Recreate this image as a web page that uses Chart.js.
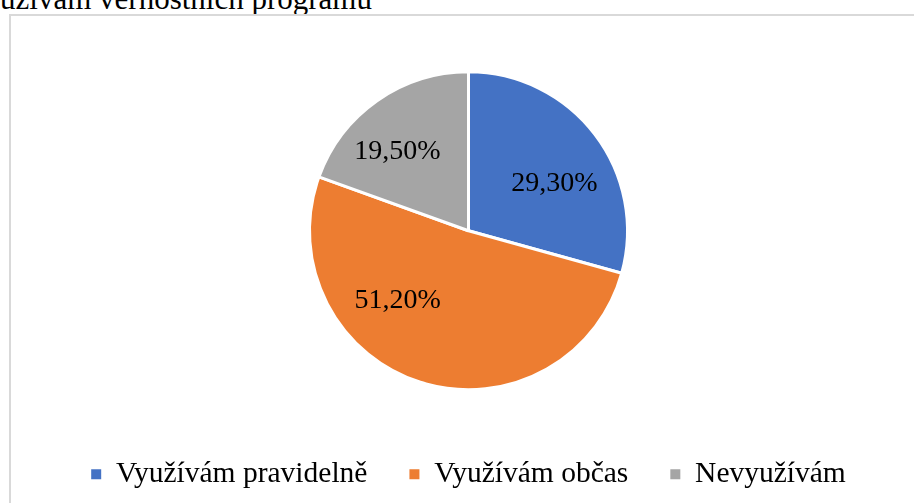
<!DOCTYPE html>
<html>
<head>
<meta charset="utf-8">
<script src="https://cdn.jsdelivr.net/npm/chart.js@4"></script>
<style>
  html, body { margin: 0; padding: 0; background: #fff; overflow: hidden; width: 914px; height: 503px; }
  .title {
    position: absolute; right: 542px; top: -17px;
    font: 31px "Liberation Serif", "Times New Roman", serif; line-height: 31px;
    white-space: nowrap; color: #000;
  }
  .box {
    position: absolute; left: 9px; top: 14px; width: 1000px; height: 600px;
    border: 2px solid #d9d9d9; box-sizing: border-box;
  }
  #chart { position: absolute; left: 11px; top: 16px; }
</style>
</head>
<body>
<div class="title">Využívám věrnostních programů</div>
<div class="box"></div>
<canvas id="chart" width="903" height="487"></canvas>
<script>
const categories = ['Využívám pravidelně', 'Využívám občas', 'Nevyužívám']
const values = [29.3, 51.2, 19.5]
const colors = ['#4472C4', '#ED7D31', '#A5A5A5']

// position of each value label inside its slice (fraction of arc, fraction of radius)
const labelAngle = [0.575, 0.653, 0.41]
const labelRadius = [0.62, 0.62, 0.675]

const formatPct = v => v.toFixed(2).replace('.', ',') + '%'

const sliceLabels = {
  id: 'sliceLabels',
  afterDatasetsDraw(chart) {
    const ctx = chart.ctx
    const meta = chart.getDatasetMeta(0)
    ctx.save()
    ctx.font = '28px "Liberation Serif", "Times New Roman", serif'
    ctx.fillStyle = '#000'
    ctx.textAlign = 'center'
    ctx.textBaseline = 'middle'
    meta.data.forEach((arc, i) => {
      const p = arc.getProps(['x', 'y', 'startAngle', 'endAngle', 'outerRadius'], true)
      const a = p.startAngle + (p.endAngle - p.startAngle) * labelAngle[i]
      const r = p.outerRadius * labelRadius[i]
      ctx.fillText(formatPct(values[i]), p.x + Math.cos(a) * r, p.y + Math.sin(a) * r + 1)
    })
    ctx.restore()
  }
}

Chart.defaults.font.family = '"Liberation Serif", "Times New Roman", serif'
Chart.defaults.color = '#000'

const baseLabels = Chart.overrides.pie.plugins.legend.labels.generateLabels

const ctx = document.getElementById('chart').getContext('2d')
new Chart(ctx, {
  type: 'pie',
  data: {
    labels: categories,
    datasets: [{
      data: values,
      backgroundColor: colors,
      borderColor: '#fff',
      borderWidth: 3,
      hoverOffset: 0,
      radius: 159
    }]
  },
  options: {
    responsive: false,
    animation: false,
    layout: { padding: { top: 28, bottom: 4, left: 12, right: 0 } },
    plugins: {
      tooltip: { enabled: false },
      legend: {
        position: 'bottom',
        labels: {
          boxWidth: 10,
          boxHeight: 10,
          padding: 42,
          font: { size: 29.5 },
          color: '#000',
          generateLabels: chart => baseLabels(chart).map(l => ({ ...l, lineWidth: 0 }))
        }
      }
    }
  },
  plugins: [sliceLabels]
})
</script>
</body>
</html>
